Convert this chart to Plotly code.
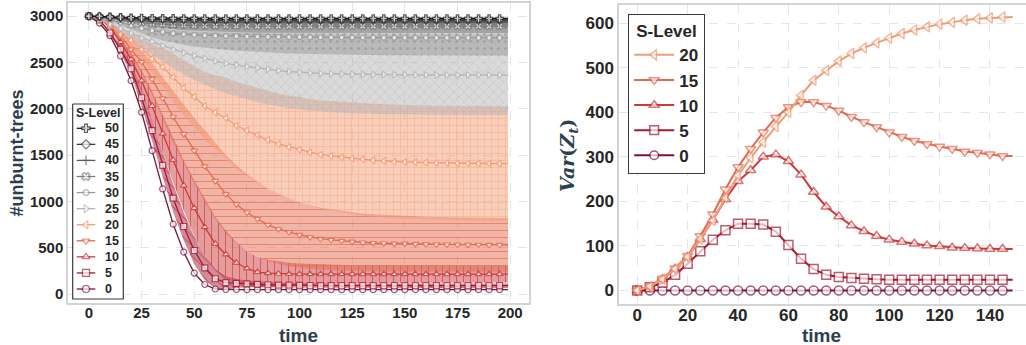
import plotly.graph_objects as go

# ---------------- data: left chart (#unburnt-trees over time) ----------------
t_left = [0, 5, 10, 15, 20, 25, 30, 35, 40, 45, 50, 55, 60, 65, 70, 75, 80, 85, 90, 95,
          100, 105, 110, 115, 120, 125, 130, 135, 140, 145, 150, 155, 160, 165, 170, 175, 180, 185, 190, 195]
t_left_end = 199
levels_left = [0, 5, 10, 15, 20, 25, 30, 35, 40, 45, 50]

mean_s0 = [3000, 2925, 2790, 2570, 2303, 1962, 1548, 1135, 754, 453, 226, 103, 54, 49, 48, 47, 47, 47, 47, 47,
           47, 47, 47, 47, 47, 47, 47, 47, 47, 47, 47, 47, 47, 47, 47, 47, 47, 47, 47, 47]
mean_s5 = [3000, 2960, 2820, 2644, 2432, 2119, 1764, 1388, 1035, 729, 470, 283, 165, 122, 114, 110, 105, 100, 97, 95,
           93, 92, 91, 90, 90, 90, 90, 90, 90, 90, 90, 90, 90, 90, 90, 90, 90, 90, 90, 90]
mean_s10 = [3000, 2975, 2890, 2720, 2533, 2303, 2030, 1731, 1448, 1171, 927, 722, 542, 427, 337, 276, 237, 225, 219, 216,
            215, 215, 215, 215, 215, 215, 215, 215, 215, 215, 215, 215, 215, 215, 215, 215, 215, 215, 215, 215]
mean_s15 = [3000, 2975, 2910, 2790, 2641, 2507, 2321, 2113, 1914, 1728, 1548, 1378, 1221, 1078, 970, 880, 810, 747, 701, 668,
            639, 614, 596, 585, 574, 565, 556, 551, 548, 545, 543, 541, 539, 537, 535, 534, 533, 532, 531, 531]
mean_s20 = [3000, 2975, 2900, 2806, 2740, 2640, 2540, 2450, 2339, 2225, 2130, 2030, 1960, 1900, 1817, 1765, 1717, 1663, 1620, 1588,
            1559, 1531, 1505, 1491, 1477, 1462, 1455, 1444, 1437, 1429, 1426, 1422, 1419, 1416, 1414, 1412, 1411, 1410, 1409, 1408]
mean_s25 = [3000, 2965, 2915, 2865, 2815, 2765, 2723, 2682, 2641, 2605, 2572, 2544, 2515, 2490, 2472, 2456, 2442, 2427, 2412, 2402,
            2393, 2387, 2382, 2378, 2375, 2373, 2371, 2370, 2369, 2368, 2367, 2366, 2366, 2365, 2365, 2364, 2364, 2364, 2364, 2364]
mean_s30 = [3000, 2985, 2960, 2930, 2900, 2870, 2845, 2828, 2815, 2805, 2798, 2793, 2789, 2786, 2783, 2781, 2779, 2777, 2776, 2775,
            2774, 2773, 2772, 2771, 2770, 2769, 2768, 2768, 2767, 2767, 2767, 2766, 2766, 2766, 2766, 2766, 2766, 2766, 2766, 2766]
mean_s35 = [3000, 2992, 2978, 2960, 2943, 2930, 2920, 2912, 2906, 2902, 2899, 2897, 2895, 2894, 2893, 2892, 2892, 2892, 2892, 2892,
            2892, 2892, 2892, 2892, 2892, 2892, 2892, 2892, 2892, 2892, 2892, 2892, 2892, 2892, 2892, 2892, 2892, 2892, 2892, 2892]
mean_s40 = [3000, 2995, 2985, 2972, 2960, 2951, 2945, 2941, 2938, 2936, 2935, 2934, 2934, 2934, 2934, 2934, 2934, 2934, 2934, 2934,
            2934, 2934, 2934, 2934, 2934, 2934, 2934, 2934, 2934, 2934, 2934, 2934, 2934, 2934, 2934, 2934, 2934, 2934, 2934, 2934]
mean_s45 = [3000, 2997, 2990, 2982, 2975, 2970, 2966, 2963, 2961, 2960, 2959, 2958, 2958, 2958, 2958, 2958, 2958, 2958, 2958, 2958,
            2958, 2958, 2958, 2958, 2958, 2958, 2958, 2958, 2958, 2958, 2958, 2958, 2958, 2958, 2958, 2958, 2958, 2958, 2958, 2958]
mean_s50 = [3000, 2998, 2993, 2988, 2984, 2981, 2979, 2978, 2977, 2976, 2976, 2975, 2975, 2975, 2975, 2975, 2975, 2975, 2975, 2975,
            2975, 2975, 2975, 2975, 2975, 2975, 2975, 2975, 2975, 2975, 2975, 2975, 2975, 2975, 2975, 2975, 2975, 2975, 2975, 2975]

# ---------------- data: right chart Var(Z_t) ----------------
t_right = [0, 5, 10, 15, 20, 25, 30, 35, 40, 45, 50, 55, 60, 65, 70, 75, 80, 85, 90, 95,
           100, 105, 110, 115, 120, 125, 130, 135, 140, 145]
t_right_end = 149
levels_right = [0, 5, 10, 15, 20]

var_s0 = [0, 0, 0, 0, 0, 0, 0, 0, 0, 0, 0, 0, 0, 0, 0, 0, 0, 0, 0, 0, 0, 0, 0, 0, 0, 0, 0, 0, 0, 0]
var_s5 = [0, 7, 17, 35, 60, 88, 114, 135, 150, 150, 148, 132, 102, 71, 48, 35, 30, 28, 26, 25,
          24, 24, 24, 24, 24, 24, 24, 24, 24, 24]
var_s10 = [0, 8, 25, 48, 75, 115, 158, 205, 245, 270, 300, 305, 290, 260, 221, 188, 166, 146, 133, 122,
           114, 109, 105, 101, 99, 96, 95, 94, 93, 93]
var_s15 = [0, 10, 27, 50, 78, 122, 171, 227, 277, 318, 355, 388, 412, 423, 423, 415, 404, 390, 378, 367,
           355, 345, 336, 329, 323, 318, 312, 309, 306, 302]
var_s20 = [0, 9, 25, 48, 75, 115, 157, 208, 258, 298, 333, 368, 400, 438, 472, 494, 515, 532, 545, 556,
           567, 577, 585, 592, 598, 602, 607, 610, 612, 614]

# band half-widths on the left chart after t=145 (t = 150..195)
var_tail_s0 = [0, 0, 0, 0, 0, 0, 0, 0, 0, 0]
var_tail_s5 = [24, 24, 24, 24, 24, 24, 24, 24, 24, 24]
var_tail_s10 = [92, 92, 91, 91, 91, 90, 90, 90, 90, 90]
var_tail_s15 = [300, 298, 296, 295, 294, 293, 292, 291, 291, 290]
var_tail_s20 = [615, 616, 617, 618, 618, 619, 619, 620, 620, 620]

# band half-widths for the grey levels (t = 0..195)
var_s25 = [0, 10, 30, 55, 85, 115, 145, 175, 205, 235, 260, 285, 305, 325, 340, 355, 368, 378, 388, 395,
           402, 407, 412, 416, 419, 422, 424, 426, 427, 428, 429, 430, 430, 431, 431, 431, 431, 431, 431, 431]
var_s30 = [0, 5, 15, 30, 45, 60, 75, 90, 105, 115, 125, 135, 143, 150, 157, 162, 167, 171, 175, 178,
           180, 182, 184, 185, 186, 187, 188, 188, 189, 189, 189, 190, 190, 190, 190, 190, 190, 190, 190, 190]
var_s35 = [0, 3, 8, 15, 22, 30, 37, 43, 48, 53, 57, 60, 63, 65, 67, 69, 70, 71, 72, 73,
           74, 74, 75, 75, 75, 75, 75, 75, 75, 75, 75, 75, 75, 75, 75, 75, 75, 75, 75, 75]
var_s40 = [0, 2, 5, 9, 13, 17, 20, 23, 25, 27, 29, 30, 31, 32, 33, 34, 35, 35, 36, 36,
           36, 36, 36, 36, 36, 36, 36, 36, 36, 36, 36, 36, 36, 36, 36, 36, 36, 36, 36, 36]
var_s45 = [0, 1, 3, 5, 7, 9, 11, 12, 13, 14, 15, 16, 17, 17, 18, 18, 18, 18, 18, 18,
           18, 18, 18, 18, 18, 18, 18, 18, 18, 18, 18, 18, 18, 18, 18, 18, 18, 18, 18, 18]
var_s50 = [0, 1, 2, 3, 4, 5, 6, 6, 7, 7, 8, 8, 8, 8, 8, 8, 8, 8, 8, 8,
           8, 8, 8, 8, 8, 8, 8, 8, 8, 8, 8, 8, 8, 8, 8, 8, 8, 8, 8, 8]

# ---------------- styles ----------------
colors = {0: '#7a1538', 5: '#a8182f', 10: '#cb3a3c', 15: '#e36b50', 20: '#f29c76',
          25: '#b5b5b5', 30: '#999999', 35: '#7b7b7b', 40: '#5c5c5c', 45: '#3c3c3c', 50: '#1a1a1a'}
symbols = {0: 'circle', 5: 'square', 10: 'triangle-up', 15: 'triangle-down', 20: 'triangle-left',
           25: 'triangle-right', 30: 'octagon', 35: 'x', 40: 'cross-thin', 45: 'diamond', 50: 'cross'}
hatches = {0: '/', 5: '\\', 10: '|', 15: '-', 20: '+', 25: 'x', 30: '.', 35: '.', 40: '.', 45: '.', 50: '/'}

means = {0: mean_s0, 5: mean_s5, 10: mean_s10, 15: mean_s15, 20: mean_s20, 25: mean_s25,
         30: mean_s30, 35: mean_s35, 40: mean_s40, 45: mean_s45, 50: mean_s50}
vars_right = {0: var_s0, 5: var_s5, 10: var_s10, 15: var_s15, 20: var_s20}
band_left = {0: var_s0 + var_tail_s0, 5: var_s5 + var_tail_s5, 10: var_s10 + var_tail_s10,
             15: var_s15 + var_tail_s15, 20: var_s20 + var_tail_s20, 25: var_s25, 30: var_s30,
             35: var_s35, 40: var_s40, 45: var_s45, 50: var_s50}


def rgba(hexc, a):
    h = hexc.lstrip('#')
    r, g, b = int(h[0:2], 16), int(h[2:4], 16), int(h[4:6], 16)
    return f'rgba({r},{g},{b},{a})'


def marker_size_left(s):
    return 5 if s == 30 else 6


W, H = 1026, 345
FONT = 'Liberation Sans, Arial, sans-serif'
fig = go.Figure()
xl = t_left + [t_left_end]

# bands (mean +/- variance)
for s in levels_left:
    m = means[s] + [means[s][-1]]
    v = band_left[s] + [band_left[s][-1]]
    lo = [a - b for a, b in zip(m, v)]
    hi = [a + b for a, b in zip(m, v)]
    fig.add_trace(go.Scatter(x=xl, y=lo, mode='lines', line=dict(width=0), showlegend=False,
                             hoverinfo='skip', xaxis='x', yaxis='y'))
    fig.add_trace(go.Scatter(x=xl, y=hi, mode='lines', line=dict(width=0), showlegend=False,
                             hoverinfo='skip', fill='tonexty', fillcolor=rgba(colors[s], 0.5),
                             fillpattern=dict(shape=hatches[s], fgcolor=rgba(colors[s], 0.8),
                                              bgcolor=rgba(colors[s], 0.5), size=7, solidity=0.12),
                             xaxis='x', yaxis='y'))

# mean lines
for s in levels_left:
    m = means[s] + [means[s][-1]]
    sizes = [marker_size_left(s)] * len(t_left) + [0]
    fig.add_trace(go.Scatter(
        x=xl, y=m, mode='lines+markers', name=str(s), showlegend=False,
        line=dict(color=colors[s], width=1.3),
        marker=dict(symbol=symbols[s], size=sizes, color='white',
                    line=dict(color=colors[s], width=1.2)),
        xaxis='x', yaxis='y'))

# right chart
xr = t_right + [t_right_end]
for s in levels_right:
    y = vars_right[s] + [vars_right[s][-1]]
    sizes = [9] * len(t_right) + [0]
    fig.add_trace(go.Scatter(
        x=xr, y=y, mode='lines+markers', name=str(s), legend='legend',
        line=dict(color=colors[s], width=2),
        marker=dict(symbol=symbols[s], size=sizes, color='white',
                    line=dict(color=colors[s], width=1.5)),
        xaxis='x2', yaxis='y2'))

# ---- left legend, drawn on a pixel-scaled overlay axis (x3/y3) ----
leg_box = dict(x0=72.7, x1=123.3, y0=104, y1=299)
leg_first_row, leg_row_gap = 128.3, 16.07
fig.add_trace(go.Scatter(
    x=[leg_box['x0'], leg_box['x1'], leg_box['x1'], leg_box['x0'], leg_box['x0']],
    y=[leg_box['y0'], leg_box['y0'], leg_box['y1'], leg_box['y1'], leg_box['y0']],
    mode='lines', fill='toself', fillcolor='rgba(255,255,255,0.82)',
    line=dict(color='#3a3a3a', width=1.2), showlegend=False, hoverinfo='skip',
    xaxis='x3', yaxis='y3'))
for k, s in enumerate(reversed(levels_left)):
    row = leg_first_row + k * leg_row_gap
    fig.add_trace(go.Scatter(
        x=[76.7, 86, 95.3], y=[row, row, row], mode='lines+markers', showlegend=False, hoverinfo='skip',
        line=dict(color=colors[s], width=1.3),
        marker=dict(symbol=symbols[s], size=[0, marker_size_left(s) + 1, 0], color='white',
                    line=dict(color=colors[s], width=1.2)),
        xaxis='x3', yaxis='y3'))
    fig.add_annotation(text=str(s), xref='paper', yref='paper', x=102.5 / W, y=1 - row / H,
                       xanchor='left', yanchor='middle', showarrow=False,
                       font=dict(family=FONT, size=12.5, color='#262626', weight='bold'))
fig.add_annotation(text='S-Level', xref='paper', yref='paper', x=98 / W, y=1 - 113 / H,
                   xanchor='center', yanchor='middle', showarrow=False,
                   font=dict(family=FONT, size=12.5, color='#262626', weight='bold'))

tickfont_l = dict(family=FONT, size=15, color='#262626', weight='bold')
tickfont_r = dict(family=FONT, size=17, color='#262626', weight='bold')
axis_common = dict(showgrid=True, gridcolor='#e6e6e6', griddash='dash', gridwidth=1,
                   showline=True, mirror=True, linecolor='#d4d4d4', linewidth=1.5,
                   zeroline=False, ticks='', automargin=False)

fig.update_layout(
    width=W, height=H, margin=dict(l=0, r=0, t=0, b=0, pad=0),
    paper_bgcolor='white', plot_bgcolor='rgba(0,0,0,0)', template='none',
    xaxis=dict(domain=[68 / W, 529 / W], range=[-9.95, 208.95], tickvals=[0, 25, 50, 75, 100, 125, 150, 175, 200],
               tickfont=tickfont_l, anchor='y', ticklabelstandoff=-5, **axis_common),
    yaxis=dict(domain=[1 - 303 / H, 1 - 3 / H], range=[-97, 3142], tickvals=[0, 500, 1000, 1500, 2000, 2500, 3000],
               tickfont=tickfont_l, anchor='x', **axis_common),
    xaxis2=dict(domain=[619 / W, 1], range=[-7.25, 154.3], tickvals=[0, 20, 40, 60, 80, 100, 120, 140],
                tickfont=tickfont_r, anchor='y2', ticklabelstandoff=-5, **axis_common),
    yaxis2=dict(domain=[1 - 304 / H, 1 - 5 / H], range=[-30.5, 641], tickvals=[0, 100, 200, 300, 400, 500, 600],
                tickfont=tickfont_r, anchor='x2', **axis_common),
    xaxis3=dict(domain=[0, 1], range=[0, W], visible=False, anchor='y3', fixedrange=True),
    yaxis3=dict(domain=[0, 1], range=[H, 0], visible=False, anchor='x3', fixedrange=True),
    legend=dict(x=628 / W, y=1 - 14 / H, xanchor='left', yanchor='top', traceorder='reversed',
                bgcolor='rgba(255,255,255,0.85)', bordercolor='#3a3a3a', borderwidth=1.2,
                font=dict(family=FONT, size=17, color='#262626', weight='bold'),
                title=dict(text='S-Level', side='top center',
                           font=dict(family=FONT, size=17, color='#262626', weight='bold')),
                itemwidth=40),
    showlegend=True,
)

title_color = '#2c3e50'
fig.add_annotation(text='#unburnt-trees', xref='paper', yref='paper', x=16.5 / W, y=1 - 153 / H,
                   textangle=-90, showarrow=False, xanchor='center', yanchor='middle',
                   font=dict(family=FONT, size=18, color=title_color, weight='bold'))
fig.add_annotation(text='time', xref='paper', yref='paper', x=298.5 / W, y=1 - 335.5 / H,
                   showarrow=False, xanchor='center', yanchor='middle',
                   font=dict(family=FONT, size=19, color=title_color, weight='bold'))
fig.add_annotation(text='time', xref='paper', yref='paper', x=821.3 / W, y=1 - 335.5 / H,
                   showarrow=False, xanchor='center', yanchor='middle',
                   font=dict(family=FONT, size=19, color=title_color, weight='bold'))
fig.add_annotation(text='<i>Var</i>(<i>Z<sub>t</sub></i>)', xref='paper', yref='paper', x=568 / W, y=1 - 156 / H,
                   textangle=-90, showarrow=False, xanchor='center', yanchor='middle',
                   font=dict(family='DejaVu Serif, serif', size=19, color=title_color, weight='bold'))

fig.write_html("out.html", config={'displayModeBar': False},
               post_script="document.body.style.margin='0px';")
